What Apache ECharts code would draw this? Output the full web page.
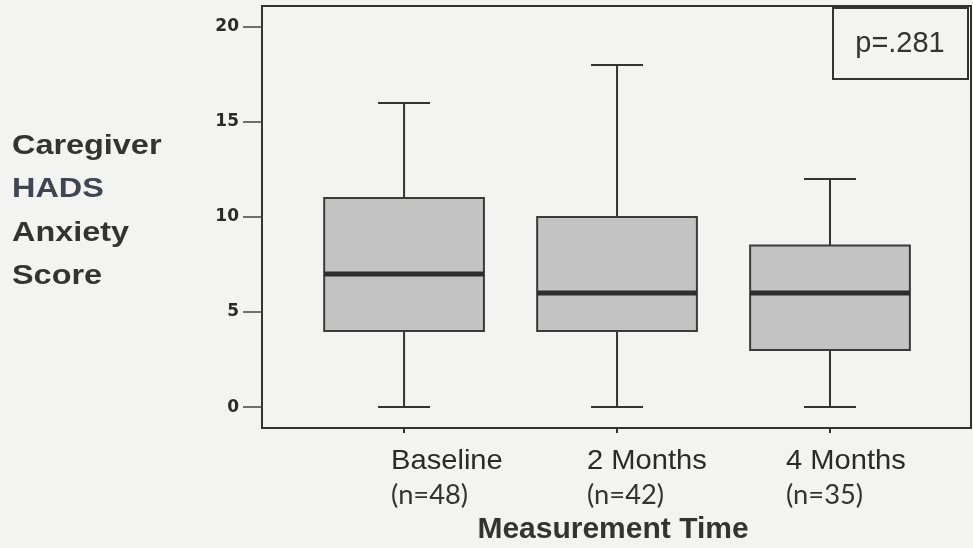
<!DOCTYPE html>
<html>
<head>
<meta charset="utf-8">
<script src="https://cdn.jsdelivr.net/npm/echarts@6/dist/echarts.min.js"></script>
<style>
  html, body { margin: 0; padding: 0; background: #f3f3f2; }
  #main { width: 973px; height: 548px; }
</style>
</head>
<body>
<div id="main"></div>
<script>
// data
var categories = ['Baseline', '2 Months', '4 Months'];
var sampleSizes = ['(n=48)', '(n=42)', '(n=35)'];
var minValues = [0, 0, 0];
var q1Values = [4, 4, 3];
var medianValues = [7, 6, 6];
var q3Values = [11, 10, 8.5];
var maxValues = [16, 18, 12];
var yTicks = [0, 5, 10, 15, 20];
var pValueText = 'p=.281';
var yTitleLines = ['Caregiver', 'HADS', 'Anxiety', 'Score'];
var xTitle = 'Measurement Time';

var boxData = categories.map(function (c, i) {
  return [i, minValues[i], q1Values[i], medianValues[i], q3Values[i], maxValues[i]];
});

var myChart = echarts.init(document.getElementById('main'));
var ink = '#333333';
var labelShift = [-13, -30, -44];

function renderBox(params, api) {
  var i = api.value(0);
  var x = api.coord([i, 0])[0];
  var unit = api.size([1, 0])[0];
  var half = unit * 0.375;
  var cap = unit * 0.122;
  var yMin = api.coord([i, api.value(1)])[1];
  var yQ1 = api.coord([i, api.value(2)])[1];
  var yMed = api.coord([i, api.value(3)])[1];
  var yQ3 = api.coord([i, api.value(4)])[1];
  var yMax = api.coord([i, api.value(5)])[1];
  var y0 = api.coord([i, 0])[1];
  var line = { stroke: ink, lineWidth: 2 };
  return {
    type: 'group',
    children: [
      { type: 'line', shape: { x1: x, y1: yMax, x2: x, y2: yQ3 }, style: line },
      { type: 'line', shape: { x1: x, y1: yQ1, x2: x, y2: yMin }, style: line },
      { type: 'line', shape: { x1: x - cap, y1: yMax, x2: x + cap, y2: yMax }, style: line },
      { type: 'line', shape: { x1: x - cap, y1: yMin, x2: x + cap, y2: yMin }, style: line },
      { type: 'rect', shape: { x: x - half, y: yQ3, width: half * 2, height: yQ1 - yQ3 },
        style: { fill: '#c3c3c3', stroke: '#3a3a3a', lineWidth: 2 } },
      { type: 'line', shape: { x1: x - half, y1: yMed, x2: x + half, y2: yMed },
        style: { stroke: '#2e2e2e', lineWidth: 5 } },
      { type: 'text', x: x + labelShift[i], y: y0 + 54, scaleX: 1.04,
        style: { text: categories[i], font: '28px "Liberation Sans", Arial, sans-serif',
          fill: '#2a2a2a', align: 'left', verticalAlign: 'middle' } },
      { type: 'text', x: x + labelShift[i], y: y0 + 89, scaleX: 1.05,
        style: { text: sampleSizes[i], font: '26px Lato, "Open Sans", sans-serif',
          fill: '#333', align: 'left', verticalAlign: 'middle' } }
    ]
  };
}

var yTitleY = [147, 190, 234, 277];
var graphics = yTitleLines.map(function (t, k) {
  return {
    type: 'text', x: 12, y: yTitleY[k], scaleX: 1.2,
    style: { text: t, font: 'bold 27px "Liberation Sans", Arial, sans-serif',
      fill: k === 1 ? '#3e4652' : '#333', verticalAlign: 'middle' }
  };
});
graphics.push({
  type: 'text', x: 613, y: 530,
  style: { text: xTitle, font: 'bold 30px "Liberation Sans", Arial, sans-serif',
    fill: '#333', align: 'center', verticalAlign: 'middle' }
});
graphics.push({
  type: 'rect', shape: { x: 833, y: 8, width: 135, height: 71 },
  style: { fill: '#f3f3f2', stroke: ink, lineWidth: 2 }
});
graphics.push({
  type: 'text', x: 900, y: 44,
  style: { text: pValueText, font: '29px "Liberation Sans", Arial, sans-serif',
    fill: '#333', align: 'center', verticalAlign: 'middle' }
});

var option = {
  backgroundColor: '#f3f3f2',
  animation: false,
  grid: {
    left: 262, right: 2, top: 6, bottom: 120,
    show: true, borderColor: ink, borderWidth: 2, backgroundColor: 'transparent'
  },
  xAxis: {
    type: 'value',
    min: -0.667,
    max: 2.662,
    splitLine: { show: false },
    axisLine: { onZero: false, lineStyle: { color: ink, width: 2 } },
    axisTick: { customValues: [0, 1, 2], length: 5, lineStyle: { color: ink, width: 2 } },
    axisLabel: { show: false }
  },
  yAxis: {
    type: 'value',
    min: -1.1,
    max: 21.1,
    splitLine: { show: false },
    axisLine: { show: true, onZero: false, lineStyle: { color: ink, width: 2 } },
    axisTick: { customValues: yTicks, length: 19, lineStyle: { color: '#444', width: 1.5 } },
    axisLabel: {
      customValues: yTicks,
      margin: 23,
      fontFamily: '"DejaVu Sans", sans-serif',
      fontWeight: 'bold',
      fontSize: 17,
      color: '#2a2a2a'
    }
  },
  series: [{
    type: 'custom',
    renderItem: renderBox,
    encode: { x: 0, y: [1, 2, 3, 4, 5] },
    data: boxData,
    clip: false
  }],
  graphic: graphics
};
myChart.setOption(option);
</script>
</body>
</html>
